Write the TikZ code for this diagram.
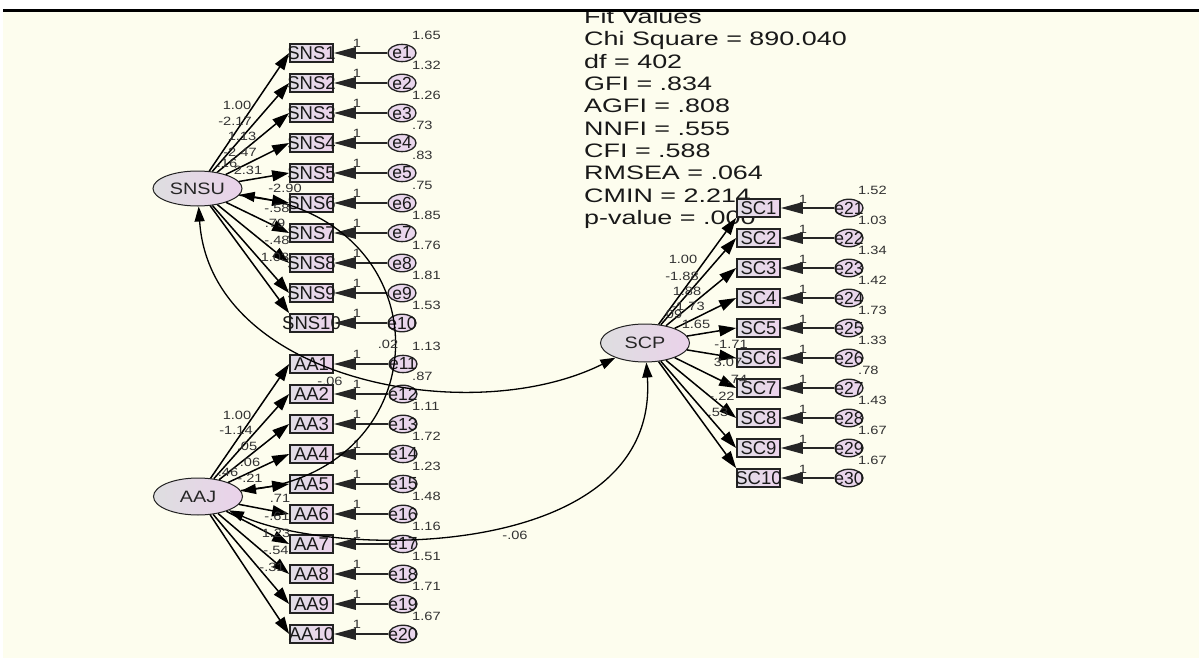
\documentclass[tikz,border=0pt]{standalone}
\usepackage{fontspec}
\setmainfont{Liberation Sans}
\newfontfamily\fitfont[FakeStretch=1.38]{Liberation Sans}
\newfontfamily\numfont[FakeStretch=1.22]{Liberation Sans}
\newfontfamily\latfont[FakeStretch=1.2]{Liberation Sans}
\usetikzlibrary{shapes.geometric,arrows.meta}
\definecolor{bgcream}{RGB}{253,253,238}
\definecolor{boxL}{RGB}{224,221,230}
\definecolor{boxR}{RGB}{237,212,236}
\definecolor{ellL}{RGB}{222,222,224}
\definecolor{ellR}{RGB}{234,210,234}
\definecolor{errfill}{RGB}{233,214,236}
\definecolor{boxline}{RGB}{35,35,35}
\definecolor{numcol}{RGB}{50,50,50}
\definecolor{fitcol}{RGB}{25,25,25}
\newcommand{\ovl}[1]{\makebox[0pt][c]{#1}}
\begin{document}
\begin{tikzpicture}[x=1pt,y=-1pt,
  obsbox/.style={rectangle, draw=boxline, line width=1.7pt, left color=boxL, right color=boxR,
    minimum width=43pt, minimum height=18pt, inner sep=0pt, font=\fontsize{18.5}{18.5}\selectfont, text=black!90},
  errc/.style={ellipse, draw=boxline, line width=1.3pt, fill=errfill, minimum width=28pt,
    minimum height=16pt, inner sep=0pt, font=\fontsize{17.5}{17.5}\selectfont, text=black!90},
  latv/.style={ellipse, draw=boxline, line width=1pt, left color=ellL, right color=ellR,
    minimum width=89pt, minimum height=35pt, inner sep=0pt, font=\latfont\fontsize{16.5}{16.5}\selectfont, text=black!85},
  numlbl/.style={font=\numfont\fontsize{12}{12}\selectfont, text=numcol, inner sep=0pt},
  fittxt/.style={font=\fitfont\fontsize{19.5}{19.5}\selectfont, text=fitcol, inner sep=0pt, anchor=base west},
  loadarr/.style={-{Triangle[length=17pt,width=11pt]}, line width=1.5pt, draw=black},
  errarr/.style={-{Triangle[length=22pt,width=11.5pt]}, line width=1.5pt, draw=black!85},
  covarr/.style={{Triangle[length=15pt,width=10pt]}-{Triangle[length=15pt,width=10pt]}, line width=1.3pt, draw=black}
]
\useasboundingbox (0,0) rectangle (1199,658);
\fill[white] (0,0) rectangle (1199,658);
\fill[bgcream] (3,12.5) rectangle (1199,658);
\begin{scope}
  \clip (3,12.5) rectangle (1199,658);
  \foreach \t [count=\i from 0] in {Fit Values, Chi Square = 890.040, df = 402, GFI = .834, AGFI = .808, NNFI = .555, CFI = .588, RMSEA = .064, CMIN = 2.214, p-value = .000}
    \node[fittxt] (fit\i) at (584,23.7+22.3*\i) {\t};
\end{scope}
\draw[black, line width=3pt] (3,11) -- (1199,11);

% latent variables
\node[latv] (SNSU) at (197.5,188.5) {SNSU};
\node[latv, minimum height=37pt] (AAJ) at (198,496.5) {AAJ};
\node[latv, minimum height=38pt] (SCP) at (645,343) {SCP};

% indicators and errors
\foreach \k in {1,...,10} {
  \pgfmathsetmacro\yy{53+30*(\k-1)}
  \node[obsbox] (SNS\k) at (311.5,\yy) {\ovl{SNS\k}};
  \node[errc] (e\k) at (402,\yy) {\ovl{e\k}};
  \draw[errarr] (e\k) -- (SNS\k);
  \node[numlbl] at (357,\yy-10) {1};
}
\foreach \k [evaluate=\k as \j using int(\k+10)] in {1,...,10} {
  \pgfmathsetmacro\yy{364+30*(\k-1)}
  \node[obsbox] (AA\k) at (311.5,\yy) {\ovl{AA\k}};
  \node[errc] (e\j) at (403,\yy) {\ovl{e\j}};
  \draw[errarr] (e\j) -- (AA\k);
  \node[numlbl] at (357,\yy-10) {1};
}
\foreach \k [evaluate=\k as \j using int(\k+20)] in {1,...,10} {
  \pgfmathsetmacro\yy{208+30*(\k-1)}
  \node[obsbox] (SC\k) at (758.5,\yy) {\ovl{SC\k}};
  \node[errc] (e\j) at (849,\yy) {\ovl{e\j}};
  \draw[errarr] (e\j) -- (SC\k);
  \node[numlbl] at (803,\yy-9) {1};
}

% loadings
\foreach \k in {1,...,9} \draw[loadarr] (SNSU) -- (SNS\k.west);
\draw[loadarr] (SNSU) -- (SNS10.north west);
\foreach \k in {1,...,10} \draw[loadarr] (AAJ) -- (AA\k.west);
\draw[loadarr] (SCP) -- (SC1.south west);
\foreach \k in {2,...,9} \draw[loadarr] (SCP) -- (SC\k.west);
\draw[loadarr] (SCP) -- (SC10.north west);

% covariances
\draw[covarr] (SNSU) .. controls (445,225) and (440,465) .. (AAJ);
\draw[covarr] (SNSU) .. controls (210,380) and (470,430) .. (SCP);
\draw[covarr] (AAJ) .. controls (340,560) and (660,560) .. (SCP);

% error variances
\foreach \k/\v [evaluate=\k as \yy using 53+30*(\k-1)-18] in {1/1.65,2/1.32,3/1.26,4/.73,5/.83,6/.75,7/1.85,8/1.76,9/1.81,10/1.53}
  \node[numlbl, anchor=west] at (412,\yy) {\v};
\foreach \k/\v [evaluate=\k as \yy using 364+30*(\k-1)-18] in {1/1.13,2/.87,3/1.11,4/1.72,5/1.23,6/1.48,7/1.16,8/1.51,9/1.71,10/1.67}
  \node[numlbl, anchor=west] at (412,\yy) {\v};
\foreach \k/\v [evaluate=\k as \yy using 208+30*(\k-1)-18] in {1/1.52,2/1.03,3/1.34,4/1.42,5/1.73,6/1.33,7/.78,8/1.43,9/1.67,10/1.67}
  \node[numlbl, anchor=west] at (858,\yy) {\v};

% loading and variance labels
\foreach \px/\py/\v in {237/105/1.00, 235/121/-2.17, 242/136/1.13, 240/152/-2.47, 227/163/.16, 248/170/2.31, 285/188/-2.90, 277/208/-.58, 275/223/.79, 277/240/-.48, 275/257/1.03,
  237/415/1.00, 236/430/-1.14, 247/446/.05, 250/462/.06, 228/472/.46, 250/478/-.21, 280/498/.71, 277/516/-.61, 276/533/1.23, 276/550/-.54, 272/567/-.31,
  683/259/1.00, 682/276/-1.88, 687/291/1.88, 688/306/-1.73, 672/314/.09, 696/324/1.65, 731/344/-1.71, 728/362/3.07, 737/379/.74, 722/396/-.22, 718/412/.53,
  388/344/.02, 330/381/-.06, 515/535/-.06}
  \node[numlbl] at (\px,\py) {\v};
\end{tikzpicture}
\end{document}
